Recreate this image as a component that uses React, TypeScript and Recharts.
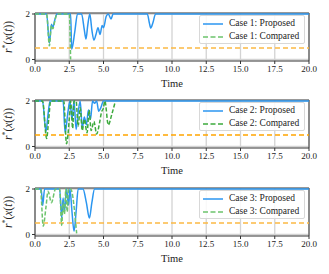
import { CartesianGrid, Line, LineChart, ReferenceArea, ReferenceLine, XAxis, YAxis } from 'recharts'

const timeTicks = [0, 2.5, 5, 7.5, 10, 12.5, 15, 17.5, 20]
const rTicks = [0, 2]
const threshold = 0.5

const case1ProposedT = [0, 0.85, 1.05, 1.2, 1.3, 1.45, 1.6, 2.6, 2.68, 2.9, 3.1, 3.4, 3.6, 3.72, 3.85, 4.0, 4.15, 4.3, 4.45, 4.6, 4.75, 4.9, 5.0, 5.2, 5.35, 5.55, 5.7, 8.2, 8.35, 8.45, 8.6, 8.8, 20]
const case1ProposedR = [2, 2, 0.72, 1.55, 1.4, 1.75, 2, 2, 0.45, 1.2, 2, 2, 1.3, 0.9, 1.5, 2, 1.3, 0.85, 1.1, 1.4, 1.1, 1.5, 1.4, 1.9, 2, 1.78, 2, 2, 1.6, 1.38, 1.6, 2, 2]
const case1ComparedT = [0, 0.85, 1.05, 1.2, 1.3, 1.45, 1.6, 2.5, 2.6]
const case1ComparedR = [2, 2, 0.6, 1.5, 1.35, 1.7, 2, 2, 0]

const case2ProposedT = [0, 0.55, 0.8, 0.95, 1.1, 2.05, 2.2, 2.4, 2.55, 2.7, 2.85, 3.0, 3.15, 3.3, 3.45, 3.6, 3.75, 3.9, 4.05, 4.2, 4.35, 4.5, 4.65, 4.8, 5.0, 20]
const case2ProposedR = [2, 2, 0.66, 1.4, 2, 2, 0.6, 1.5, 2, 1.2, 2, 0.75, 1.5, 2, 0.8, 1.3, 0.95, 1.6, 1.2, 2, 1.9, 2, 1.55, 1.7, 2, 2]
const case2ComparedT = [0, 0.55, 0.85, 1.0, 1.15, 2.1, 2.3, 2.5, 2.6, 2.75, 2.85, 3.0, 3.15, 3.3, 3.45, 3.6, 3.8, 3.95, 4.1, 4.3, 4.5, 4.7, 4.85, 5.0, 5.1, 5.35, 5.6, 5.85]
const case2ComparedR = [2, 2, 0.35, 1.2, 2, 2, 0.12, 1.2, 2, 0.8, 2, 2, 0.9, 1.7, 0.7, 1.2, 0.6, 1.6, 0.7, 1.1, 0.55, 1.0, 1.5, 1.7, 2, 0.95, 1.4, 1.96]

const case3ProposedT = [0, 0.45, 0.56, 0.7, 1.8, 1.95, 2.05, 2.15, 2.3, 2.45, 2.55, 2.7, 2.85, 3.0, 3.15, 3.5, 3.75, 3.97, 4.15, 4.35, 20]
const case3ProposedR = [2, 2, 1.27, 2, 2, 0.72, 1.6, 1.0, 2, 1.3, 2, 1.0, 0.14, 1.0, 2, 2, 1.4, 0.72, 1.4, 2, 2]
const case3ComparedT = [0, 0.4, 0.6, 0.8, 0.95, 1.2, 1.5, 1.8, 1.95, 2.05, 2.15, 2.25, 2.35, 2.45, 2.6, 3.04]
const case3ComparedR = [2, 2, 0.36, 1.2, 1.9, 1.4, 2, 2, 0.4, 1.4, 0.9, 2, 1.0, 2, 2, 0.05]

const zip = (t: number[], r: number[]) => t.map((v, i) => ({ t: v, r: r[i] }))

const FONT = '"Liberation Serif", "DejaVu Serif", serif'
const BLUE = '#2b96f0'

interface PanelProps {
  top: number
  caseNo: number
  proposed: { t: number; r: number }[]
  compared: { t: number; r: number }[]
  greenColor: string
  orangeColor: string
}

function YLabel({ viewBox }: any) {
  const cx = 12
  const cy = viewBox.y + viewBox.height / 2
  return (
    <text x={cx} y={cy} transform={`rotate(-90 ${cx} ${cy})`} textAnchor="middle" fontFamily={FONT} fontSize={11.5} fill="#222">
      <tspan fontStyle="italic">r</tspan>
      <tspan fontSize={8} dy={-4}>*</tspan>
      <tspan dy={4}>(</tspan>
      <tspan fontStyle="italic">x</tspan>
      <tspan>(</tspan>
      <tspan fontStyle="italic">t</tspan>
      <tspan>))</tspan>
    </text>
  )
}

function PanelLegend({ caseNo, greenColor }: { caseNo: number; greenColor: string }) {
  return (
    <div
      style={{
        position: 'absolute',
        top: 15,
        left: 199,
        width: 106,
        height: 29,
        boxSizing: 'border-box',
        border: '1px solid #d8d8d8',
        borderRadius: 2,
        background: 'rgba(255,255,255,0.85)',
        padding: '1px 3px',
        fontFamily: FONT,
        fontSize: 9.5,
        color: '#222',
        lineHeight: '13px',
        whiteSpace: 'nowrap',
      }}
    >
      <div style={{ display: 'flex', alignItems: 'center' }}>
        <svg width={20} height={6} style={{ marginRight: 6 }}>
          <line x1={0} y1={3} x2={20} y2={3} stroke={BLUE} strokeWidth={1.5} />
        </svg>
        Case {caseNo}: Proposed
      </div>
      <div style={{ display: 'flex', alignItems: 'center' }}>
        <svg width={20} height={6} style={{ marginRight: 6 }}>
          <line x1={0} y1={3} x2={20} y2={3} stroke={greenColor} strokeWidth={1.5} strokeDasharray="5 2.5" />
        </svg>
        Case {caseNo}: Compared
      </div>
    </div>
  )
}

function Panel({ top, caseNo, proposed, compared, greenColor, orangeColor }: PanelProps) {
  return (
    <div style={{ position: 'absolute', left: 0, top, width: 329, height: 88 }}>
      <LineChart width={329} height={88} margin={{ top: 13, right: 20, bottom: 0, left: 0 }}>
        <CartesianGrid stroke="#d3d3d3" strokeWidth={1.3} horizontalValues={rTicks} verticalValues={timeTicks} />
        <XAxis
          type="number"
          dataKey="t"
          domain={[0, 20]}
          ticks={timeTicks}
          tickFormatter={(v: number) => v.toFixed(1)}
          allowDataOverflow
          height={27}
          tickSize={3}
          tickLine={{ stroke: '#333' }}
          axisLine={false}
          tick={{ fontFamily: FONT, fontSize: 9, fill: '#222' }}
          label={{ value: 'Time', position: 'insideBottom', offset: 1, fontFamily: FONT, fontSize: 10.5, fill: '#222' }}
        />
        <YAxis
          type="number"
          domain={[-0.066, 2.044]}
          ticks={rTicks}
          allowDataOverflow
          width={35}
          tickSize={3}
          tickLine={{ stroke: '#333' }}
          axisLine={false}
          tick={{ fontFamily: FONT, fontSize: 9, fill: '#222' }}
          label={<YLabel />}
        />
        <ReferenceLine y={threshold} stroke={orangeColor} strokeWidth={1.5} strokeDasharray="5 3" />
        <Line data={proposed} dataKey="r" type="monotone" stroke={BLUE} strokeWidth={1.5} dot={false} isAnimationActive={false} />
        <Line data={compared} dataKey="r" type="monotone" stroke={greenColor} strokeWidth={1.5} strokeDasharray="4 2" dot={false} isAnimationActive={false} />
        <ReferenceArea x1={0} x2={20} y1={-0.066} y2={2.044} fill="none" stroke="#333" strokeWidth={1} />
      </LineChart>
      <PanelLegend caseNo={caseNo} greenColor={greenColor} />
    </div>
  )
}

export default function App() {
  return (
    <div style={{ position: 'absolute', left: 0, top: 0, width: 329, height: 274, background: '#fff' }}>
      <Panel top={0} caseNo={1} proposed={zip(case1ProposedT, case1ProposedR)} compared={zip(case1ComparedT, case1ComparedR)} greenColor="#6cc46c" orangeColor="#fbb944" />
      <Panel top={87} caseNo={2} proposed={zip(case2ProposedT, case2ProposedR)} compared={zip(case2ComparedT, case2ComparedR)} greenColor="#3caa3c" orangeColor="#ffa500" />
      <Panel top={175} caseNo={3} proposed={zip(case3ProposedT, case3ProposedR)} compared={zip(case3ComparedT, case3ComparedR)} greenColor="#6cc46c" orangeColor="#fbb944" />
    </div>
  )
}
